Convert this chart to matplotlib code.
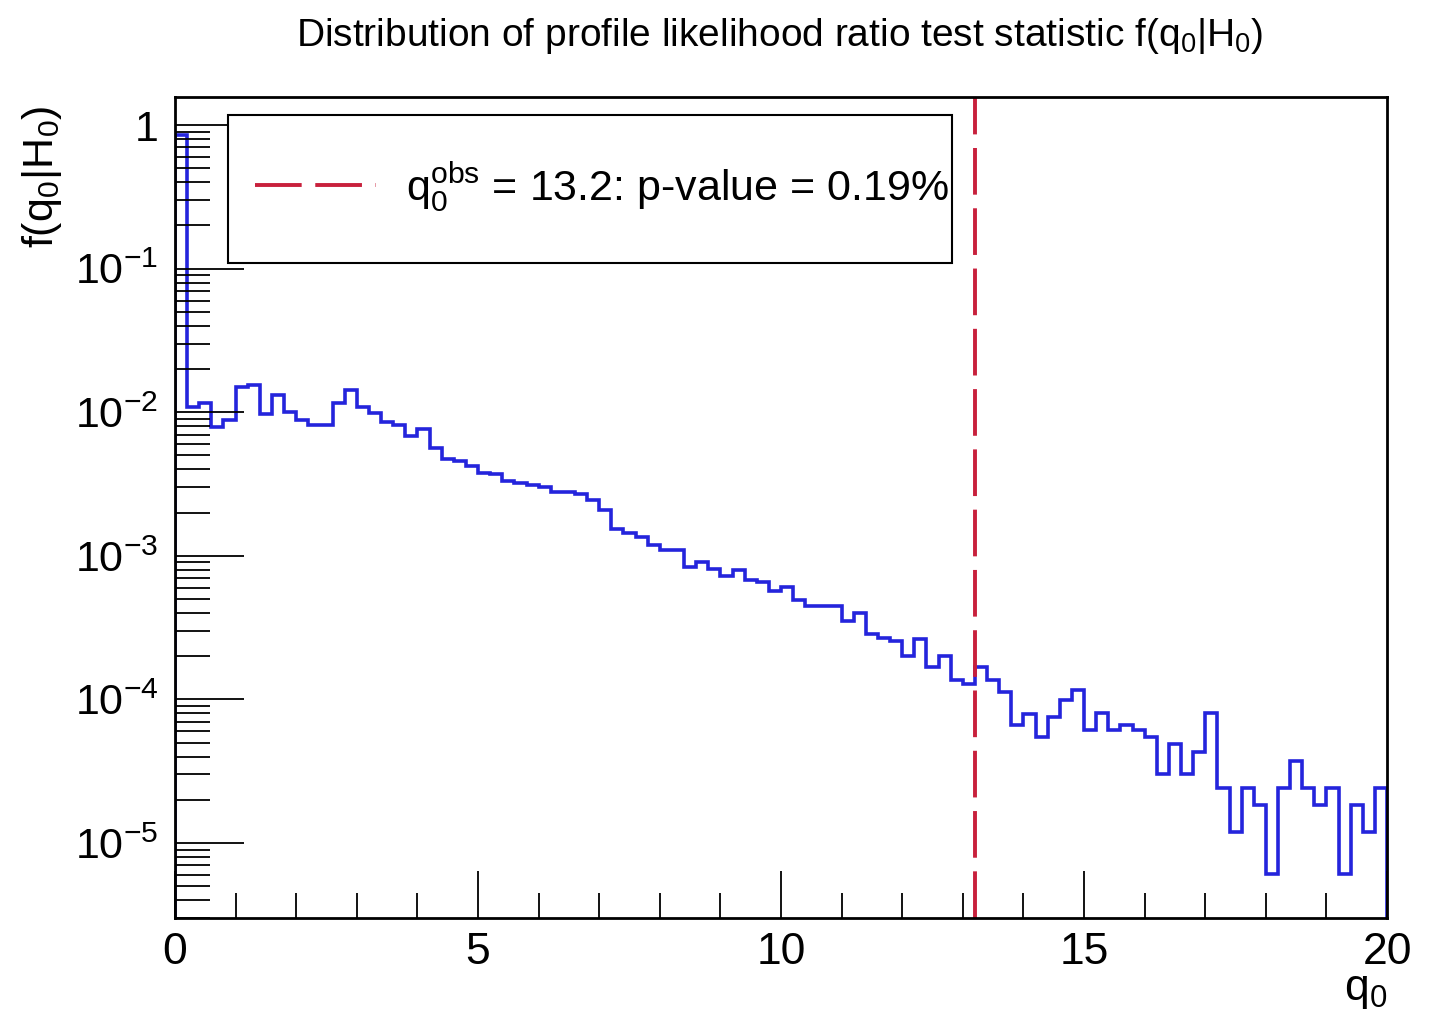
import numpy as np
import matplotlib.pyplot as plt
from matplotlib.patches import Rectangle
from matplotlib.ticker import MultipleLocator, LogLocator, NullFormatter

plt.rcParams['font.family'] = ['Liberation Sans', 'DejaVu Sans']
plt.rcParams['mathtext.default'] = 'regular'

# histogram of q0 under H0: 100 bins of width 0.2 between 0 and 20
bin_edges = np.linspace(0, 20, 101)
f_q0 = [
    0.85, 0.0108, 0.0116, 0.0079, 0.0088, 0.0151, 0.0155, 0.0098, 0.0132, 0.0101,
    0.0088, 0.0081, 0.0081, 0.0116, 0.0143, 0.0108, 0.0099, 0.0085, 0.0082, 0.0068,
    0.0077, 0.0056, 0.0047, 0.0046, 0.0042, 0.0038, 0.0037, 0.0033, 0.0032, 0.0031,
    0.0030, 0.0028, 0.0028, 0.0027, 0.00245, 0.0021, 0.00154, 0.00145, 0.00135, 0.00119,
    0.0011, 0.0011, 0.00084, 0.0009, 0.00081, 0.00072, 0.0008, 0.00068, 0.00066, 0.00057,
    0.00061, 0.00049, 0.00045, 0.00045, 0.00045, 0.00035, 0.0004, 0.000286, 0.000268, 0.000255,
    0.0002, 0.000263, 0.000167, 0.0002, 0.000136, 0.000129, 0.000167, 0.000136, 0.000113, 6.6e-5,
    7.9e-5, 5.5e-5, 7.5e-5, 9.9e-5, 1.16e-4, 6.1e-5, 8.0e-5, 6.1e-5, 6.6e-5, 6.1e-5,
    5.5e-5, 3.0e-5, 4.9e-5, 3.0e-5, 4.3e-5, 8.0e-5, 2.4e-5, 1.2e-5, 2.4e-5, 1.84e-5,
    6.1e-6, 2.4e-5, 3.7e-5, 2.4e-5, 1.84e-5, 2.4e-5, 6.1e-6, 1.84e-5, 1.2e-5, 2.4e-5,
]
q0_obs = 13.2
p_value = 0.19

title = "Distribution of profile likelihood ratio test statistic f(q$_0$|H$_0$)"
xtick_vals = [0, 5, 10, 15, 20]
ytick_vals = [1e-5, 1e-4, 1e-3, 1e-2, 1e-1, 1]
ytick_labels = ['$10^{-5}$', '$10^{-4}$', '$10^{-3}$', '$10^{-2}$', '$10^{-1}$', '1']

fig = plt.figure(figsize=(14.31, 10.18), dpi=100)
ax = fig.add_axes([0.1223, 0.0982, 0.847, 0.8065])

ax.stairs(f_q0, bin_edges, color='#2424dc', lw=2.6)
obs_line = ax.axvline(q0_obs, color='#c8203c', lw=2.8, dashes=(12, 3.5),
                      label="q$_0^{obs}$ = %.1f: p-value = %.2f%%" % (q0_obs, p_value))

ax.set_yscale('log')
ax.set_xlim(0, 20)
ax.set_ylim(3e-6, 1.57)

ax.set_xticks(xtick_vals)
ax.set_xticklabels([str(v) for v in xtick_vals])
ax.xaxis.set_minor_locator(MultipleLocator(1))
ax.set_yticks(ytick_vals)
ax.set_yticklabels(ytick_labels)
ax.yaxis.set_minor_locator(LogLocator(base=10, subs=np.arange(2, 10)))
ax.yaxis.set_minor_formatter(NullFormatter())

ax.tick_params(axis='x', which='major', direction='in', length=34, width=1.3,
               labelsize=32, pad=10, top=False)
ax.tick_params(axis='x', which='minor', direction='in', length=18, width=1.3, top=False)
ax.tick_params(axis='y', which='major', direction='in', length=50, width=1.3,
               labelsize=31, pad=12, right=False)
ax.tick_params(axis='y', which='minor', direction='in', length=25, width=1.3, right=False)

for s in ax.spines.values():
    s.set_linewidth(2)

ax.set_xlabel("q$_0$", fontsize=32, loc='right')
ax.xaxis.set_label_coords(1.0, -0.063)
ax.set_ylabel("f(q$_0$|H$_0$)", fontsize=31, loc='top')
ax.yaxis.set_label_coords(-0.092, 0.99)

fig.text(0.545, 0.965, title, ha='center', va='center', fontsize=28)

# legend box (ROOT TLegend style: square frame, left-aligned entry)
ax.add_patch(Rectangle((0.0437, 0.798), 0.597, 0.18, transform=ax.transAxes,
                       fill=True, facecolor='white', edgecolor='black', lw=1.5, zorder=4))
leg = ax.legend(handles=[obs_line], loc='center left', bbox_to_anchor=(0.066, 0.89),
                borderaxespad=0, borderpad=0, fontsize=31, frameon=False,
                handlelength=2.8, handletextpad=0.7)
leg.set_zorder(5)

fig.savefig('out.png', dpi=100)
